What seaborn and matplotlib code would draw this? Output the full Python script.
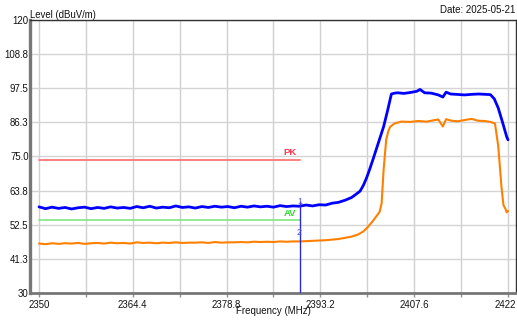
import numpy as np
import matplotlib as mpl
_ = mpl.use('Agg')
import matplotlib.pyplot as plt
import matplotlib.transforms as mtransforms
import seaborn as sns
import pandas as pd

# peak trace (blue)
pk_freq = [2350, 2351, 2352, 2353, 2354, 2355, 2356, 2357, 2358, 2359,
           2360, 2361, 2362, 2363, 2364, 2365, 2366, 2367, 2368, 2369,
           2370, 2371, 2372, 2373, 2374, 2375, 2376, 2377, 2378, 2379,
           2380, 2381, 2382, 2383, 2384, 2385, 2386, 2387, 2388, 2389,
           2390, 2391, 2392, 2393, 2394, 2395, 2396, 2397, 2398, 2398.7,
           2399.3, 2399.8, 2400.3, 2400.8, 2401.3, 2402.1, 2402.9, 2403.5, 2404.1, 2404.6,
           2405.1, 2406, 2407, 2408, 2408.5, 2409.2, 2410.2, 2411.3, 2412.0, 2412.5,
           2413.2, 2414, 2415.3, 2416.5, 2417.5, 2418.4, 2419.3, 2419.9, 2420.5, 2421.2,
           2421.8, 2422]
pk_level = [58.4, 57.8, 58.3, 57.9, 58.2, 57.7, 58.1, 58.3, 57.8, 58.2,
            57.9, 58.4, 58.0, 58.2, 57.9, 58.5, 58.1, 58.6, 58.0, 58.3,
            58.1, 58.7, 58.2, 58.4, 58.0, 58.5, 58.2, 58.6, 58.3, 58.5,
            58.1, 58.6, 58.3, 58.7, 58.4, 58.6, 58.3, 58.8, 58.5, 58.7,
            58.6, 59.0, 58.7, 59.1, 59.0, 59.6, 59.9, 60.6, 61.5, 62.6,
            63.6, 65.5, 68.0, 71.0, 74.2, 79.5, 84.8, 90.0, 95.6, 95.9,
            96.0, 95.8, 96.1, 96.5, 97.1, 96.0, 95.9, 95.3, 94.6, 96.2,
            95.6, 95.5, 95.3, 95.5, 95.6, 95.5, 95.4, 94.0, 91.0, 86.0,
            81.5, 80.5]

# average trace (orange)
av_freq = [2350, 2351, 2352, 2353, 2354, 2355, 2356, 2357, 2358, 2359,
           2360, 2361, 2362, 2363, 2364, 2365, 2366, 2367, 2368, 2369,
           2370, 2371, 2372, 2373, 2374, 2375, 2376, 2377, 2378, 2379,
           2380, 2381, 2382, 2383, 2384, 2385, 2386, 2387, 2388, 2389,
           2390, 2391, 2392, 2393, 2394, 2395, 2396, 2397, 2398, 2399,
           2399.8, 2400.5, 2401.2, 2401.8, 2402.3, 2402.6, 2402.9, 2403.3, 2403.6, 2403.9,
           2404.6, 2405.6, 2407, 2408.2, 2409.5, 2410.5, 2411.3, 2412.0, 2412.5, 2413.3,
           2414.3, 2415.3, 2416.4, 2417.4, 2418.4, 2419.3, 2420.0, 2420.5, 2421.0, 2421.3,
           2421.6, 2421.8, 2422]
av_level = [46.3, 46.1, 46.4, 46.2, 46.4, 46.3, 46.5, 46.2, 46.4, 46.5,
            46.3, 46.6, 46.4, 46.5, 46.3, 46.7, 46.5, 46.6, 46.4, 46.6,
            46.5, 46.7, 46.5, 46.6, 46.6, 46.7, 46.5, 46.8, 46.6, 46.7,
            46.7, 46.8, 46.7, 46.9, 46.8, 46.9, 46.8, 47.0, 46.9, 47.0,
            47.0, 47.1, 47.2, 47.3, 47.4, 47.6, 47.8, 48.2, 48.6, 49.3,
            50.3, 51.8, 53.6, 55.3, 56.8, 59.6, 70.5, 80.5, 83.2, 84.8,
            85.9, 86.5, 86.4, 86.7, 86.5, 86.9, 87.2, 84.9, 87.3, 86.8,
            86.6, 87.0, 87.4, 86.8, 86.7, 86.4, 85.9, 78.5, 65.0, 59.0,
            57.8, 56.6, 57.0]

# limit lines and marker
limit_freq = [2350, 2390]
pk_limit = 74.0
av_limit = 54.0
marker_freq = 2390
marker1_level = 60.3
marker2_level = 49.8

yticks = [30, 41.25, 52.5, 63.75, 75, 86.25, 97.5, 108.75, 120]
ytick_labels = ['30', '41.3', '52.5', '63.8', '75.0', '86.3', '97.5', '108.8', '120']
xticks = [2350, 2364.4, 2378.8, 2393.2, 2407.6, 2422]
xtick_labels = ['2350', '2364.4', '2378.8', '2393.2', '2407.6', '2422']
xticks_minor = [2357.2, 2371.6, 2386.0, 2400.4, 2414.8]

sns.set_style('white')
plt.rcParams['font.family'] = ['Liberation Sans', 'DejaVu Sans']

fig = plt.figure(figsize=(5.17, 3.2), dpi=100)
ax = fig.add_axes([30 / 517, 1 - 293 / 320, 486 / 517, 273 / 320])

# limit lines
sns.lineplot(x=limit_freq, y=[pk_limit, pk_limit], ax=ax, color='#ff8080', linewidth=1.4)
sns.lineplot(x=limit_freq, y=[av_limit, av_limit], ax=ax, color='#80e880', linewidth=1.2)

# traces
av_df = pd.DataFrame({'freq': av_freq, 'level': av_level})
pk_df = pd.DataFrame({'freq': pk_freq, 'level': pk_level})
sns.lineplot(data=av_df, x='freq', y='level', ax=ax, color='#ff8000', linewidth=1.5,
             sort=False, estimator=None)
sns.lineplot(data=pk_df, x='freq', y='level', ax=ax, color='#0000ff', linewidth=2.0,
             sort=False, estimator=None)

# marker
ax.vlines(marker_freq, 30, marker1_level, color='#2a2ad8', linewidth=1.0, zorder=5)
ax.text(marker_freq, marker1_level, '1', color='#5050e0', fontsize=6.5, ha='center', va='center', zorder=6)
ax.text(marker_freq, marker2_level, '2', color='#5050e0', fontsize=6.5, ha='center', va='center', zorder=6)

ax.text(2389.5, pk_limit + 0.8, 'PK', color='#ff3850', fontsize=6.8, fontweight='bold',
        ha='right', va='bottom')
ax.text(2389.5, av_limit + 0.8, 'AV', color='#30dd30', fontsize=6.8, fontweight='bold',
        ha='right', va='bottom')

ax.set_xlim(2348.62, 2423.23)
ax.set_ylim(30, 120)
ax.set_xticks(xticks)
ax.set_xticklabels(xtick_labels)
ax.set_xticks(xticks_minor, minor=True)
ax.set_yticks(yticks)
ax.set_yticklabels(ytick_labels)
ax.set_xlabel('')
ax.set_ylabel('')

ax.grid(True, which='both', axis='x', color='#d0d0d0', linewidth=1.0)
ax.grid(True, which='major', axis='y', color='#d4d4d4', linewidth=1.0)
ax.set_axisbelow(True)

ax.tick_params(axis='x', which='both', direction='out', length=3, width=1, color='#909090',
               pad=2, labelsize=6.9, labelcolor='#111111', bottom=True)
ax.tick_params(axis='y', which='both', length=0, pad=1, labelsize=6.9, labelcolor='#111111')

# keep the last x label inside the picture
last = ax.get_xticklabels()[-1]
last.set_transform(last.get_transform() + mtransforms.ScaledTranslation(-3 / 100, 0, fig.dpi_scale_trans))

for side in ['top', 'right']:
    ax.spines[side].set_color('#333333')
    ax.spines[side].set_linewidth(1.0)
ax.spines['left'].set_color('#777777')
ax.spines['left'].set_linewidth(2.4)
ax.spines['bottom'].set_color('#777777')
ax.spines['bottom'].set_linewidth(2.0)

fig.text(30 / 517, 1 - 14.5 / 320, 'Level (dBuV/m)', fontsize=6.9, color='#111111',
         ha='left', va='center')
fig.text(515 / 517, 1 - 10 / 320, 'Date: 2025-05-21', fontsize=7.0, color='#111111',
         ha='right', va='center')
fig.text(273 / 517, 1 - 311.5 / 320, 'Frequency (MHz)', fontsize=7.0, color='#111111',
         ha='center', va='center')

fig.savefig('out.png', dpi=100, facecolor='white')
